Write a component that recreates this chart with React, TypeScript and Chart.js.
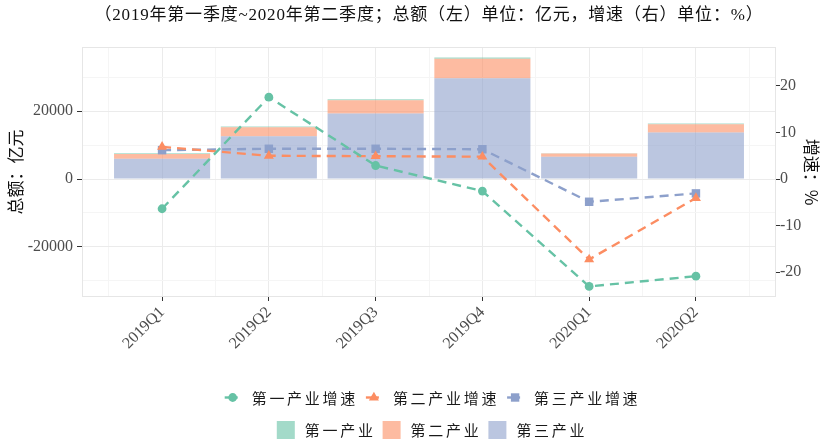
import React, { useEffect, useRef } from 'react';
import { Chart, registerables } from 'chart.js';

Chart.register(...registerables);

// ---- data ----
const categories = ['2019Q1', '2019Q2', '2019Q3', '2019Q4', '2020Q1', '2020Q2'];
const primaryTotal = [200, 250, 300, 350, 100, 250];
const secondaryTotal = [1400, 2650, 3900, 5800, 900, 2450];
const tertiaryTotal = [6000, 12600, 19300, 29700, 6600, 13700];
const primaryGrowth = [-6.4, 17.6, 2.9, -2.6, -23.1, -20.9];
const secondaryGrowth = [6.9, 5.0, 4.9, 4.8, -17.3, -4.1];
const tertiaryGrowth = [6.2, 6.5, 6.5, 6.4, -4.9, -3.1];
const leftTickValues = [-30000, -20000, -10000, 0, 10000, 20000, 30000];
const leftLabelledTicks = [-20000, 0, 20000];
const rightTickValues = [-20, -10, 0, 10, 20];
const xTickValues = [0.5, 1, 1.5, 2, 2.5, 3, 3.5, 4, 4.5, 5, 5.5, 6, 6.5];

const titleText = '（2019年第一季度~2020年第二季度；总额（左）单位：亿元，增速（右）单位：%）';
const leftTitle = '总额：亿元';
const rightTitle = '增速：%';

const barNames = ['第一产业', '第二产业', '第三产业'];
const lineNames = ['第一产业增速', '第二产业增速', '第三产业增速'];

// ---- styles ----
const GREEN = '#66c2a5';
const ORANGE = '#fc8d62';
const BLUE = '#8da0cb';
const GREEN_FILL = 'rgba(102,194,165,0.6)';
const ORANGE_FILL = 'rgba(252,141,98,0.6)';
const BLUE_FILL = 'rgba(141,160,203,0.6)';
const MAJOR_GRID = '#ebebeb';
const MINOR_GRID = '#f5f5f5';
const TICK_MARK = '#333333';
const SERIF = "'Liberation Serif', 'Noto Sans CJK SC', serif";
const CJK = "'Noto Sans CJK SC', sans-serif";

const LEFT_MIN = -34808;
const LEFT_MAX = 38938;
const RATIO = 1371.7;

const toXY = (vals: number[]) => vals.map((v, i) => ({ x: i + 1, y: v }));

const drawMarker = (ctx: CanvasRenderingContext2D, kind: string, x: number, y: number, color: string) => {
  ctx.fillStyle = color;
  ctx.beginPath();
  if (kind === 'circle') {
    ctx.arc(x, y, 4.4, 0, Math.PI * 2);
  } else if (kind === 'triangle') {
    const r = 5.8;
    ctx.moveTo(x, y - r);
    ctx.lineTo(x + r * 0.866, y + r * 0.5);
    ctx.lineTo(x - r * 0.866, y + r * 0.5);
    ctx.closePath();
  } else {
    ctx.rect(x - 4.2, y - 4.2, 8.4, 8.4);
  }
  ctx.fill();
};

const titlePlugin = {
  id: 'topTitle',
  afterDraw(chart: any) {
    const { ctx, chartArea } = chart;
    ctx.save();
    ctx.font = `17px ${SERIF}`;
    (ctx as any).letterSpacing = '0.8px';
    ctx.fillStyle = '#111111';
    ctx.textAlign = 'center';
    ctx.textBaseline = 'middle';
    ctx.fillText(titleText, (chartArea.left + chartArea.right) / 2, 16);
    ctx.restore();
  },
};

const panelBorderPlugin = {
  id: 'panelBorder',
  beforeDatasetsDraw(chart: any) {
    const { ctx, chartArea } = chart;
    ctx.save();
    ctx.strokeStyle = '#e6e6e6';
    ctx.lineWidth = 1;
    ctx.strokeRect(chartArea.left + 0.5, chartArea.top + 0.5, chartArea.right - chartArea.left - 1, chartArea.bottom - chartArea.top - 1);
    ctx.restore();
  },
};

const legendPlugin = {
  id: 'twoRowLegend',
  afterDraw(chart: any) {
    const { ctx, chartArea } = chart;
    const cx = (chartArea.left + chartArea.right) / 2 + 3;
    const keyW = 18;
    const keyGap = 10;
    const itemGap = 7;
    const rows = [
      {
        y: 397.5,
        items: [
          { text: lineNames[0], color: GREEN, kind: 'circle', line: true },
          { text: lineNames[1], color: ORANGE, kind: 'triangle', line: true },
          { text: lineNames[2], color: BLUE, kind: 'rect', line: true },
        ],
      },
      {
        y: 430,
        items: [
          { text: barNames[0], color: GREEN_FILL, kind: 'box', line: false },
          { text: barNames[1], color: ORANGE_FILL, kind: 'box', line: false },
          { text: barNames[2], color: BLUE_FILL, kind: 'box', line: false },
        ],
      },
    ];
    ctx.save();
    ctx.font = `15px ${CJK}`;
    (ctx as any).letterSpacing = '2.7px';
    ctx.textBaseline = 'middle';
    ctx.textAlign = 'left';
    rows.forEach((row) => {
      const widths = row.items.map((it) => ctx.measureText(it.text).width);
      const total = widths.reduce((a, w) => a + keyW + keyGap + w, 0) + itemGap * (row.items.length - 1);
      let x = cx - total / 2;
      row.items.forEach((it, i) => {
        if (it.line) {
          ctx.strokeStyle = it.color;
          ctx.lineWidth = 2.4;
          ctx.beginPath();
          ctx.moveTo(x + 1, row.y);
          ctx.lineTo(x + 14, row.y);
          ctx.stroke();
          drawMarker(ctx, it.kind, x + 9, row.y, it.color);
        } else {
          ctx.fillStyle = it.color;
          ctx.fillRect(x, row.y - 9, keyW, keyW);
        }
        ctx.fillStyle = '#1a1a1a';
        ctx.fillText(it.text, x + keyW + keyGap, row.y + 0.5);
        x += keyW + keyGap + widths[i] + itemGap;
      });
    });
    ctx.restore();
  },
};

export default function App() {
  const canvasRef = useRef<HTMLCanvasElement | null>(null);

  useEffect(() => {
    document.body.style.margin = '0';
    if (!canvasRef.current) return;
    Chart.defaults.font.family = SERIF;
    Chart.defaults.color = '#4d4d4d';

    const lineCommon = {
      type: 'line' as const,
      yAxisID: 'y1',
      borderWidth: 2.4,
      borderDash: [9, 6],
      fill: false,
      tension: 0,
      order: 0,
      pointBorderWidth: 0,
    };

    // the bar ruler also counts the half-step grid ticks, so the width share is doubled
    const barCommon = {
      type: 'bar' as const,
      stack: 'total',
      yAxisID: 'y',
      order: 1,
      barPercentage: 1.8,
      categoryPercentage: 1,
    };

    const chart = new Chart(canvasRef.current, {
      type: 'bar',
      data: {
        datasets: [
          { ...barCommon, label: barNames[2], data: toXY(tertiaryTotal), backgroundColor: BLUE_FILL },
          { ...barCommon, label: barNames[1], data: toXY(secondaryTotal), backgroundColor: ORANGE_FILL },
          { ...barCommon, label: barNames[0], data: toXY(primaryTotal), backgroundColor: GREEN_FILL },
          {
            ...lineCommon,
            label: lineNames[0],
            data: toXY(primaryGrowth),
            borderColor: GREEN,
            backgroundColor: GREEN,
            pointStyle: 'circle',
            pointRadius: 4.4,
            pointBackgroundColor: GREEN,
          },
          {
            ...lineCommon,
            label: lineNames[1],
            data: toXY(secondaryGrowth),
            borderColor: ORANGE,
            backgroundColor: ORANGE,
            pointStyle: 'triangle',
            pointRadius: 5.8,
            pointBackgroundColor: ORANGE,
          },
          {
            ...lineCommon,
            label: lineNames[2],
            data: toXY(tertiaryGrowth),
            borderColor: BLUE,
            backgroundColor: BLUE,
            pointStyle: 'rect',
            pointRadius: 6,
            pointBackgroundColor: BLUE,
          },
        ] as any,
      },
      options: {
        animation: false,
        responsive: true,
        maintainAspectRatio: false,
        layout: { padding: { top: 47, left: 0, right: 0, bottom: 66 } },
        plugins: {
          legend: { display: false },
          tooltip: { enabled: false },
          title: { display: false },
        },
        scales: {
          x: {
            type: 'linear',
            position: 'bottom',
            offset: false,
            min: 0.25,
            max: 6.75,
            afterBuildTicks: (scale: any) => {
              scale.ticks = xTickValues.map((v) => ({ value: v }));
            },
            afterFit: (scale: any) => {
              scale.height = 80;
            },
            ticks: {
              autoSkip: false,
              minRotation: 45,
              maxRotation: 45,
              padding: 2,
              color: '#4d4d4d',
              font: { family: SERIF, size: 16 },
              callback: (value: any) => (Number.isInteger(value) ? categories[value - 1] : ''),
            },
            grid: {
              offset: false,
              color: (c: any) => (c.tick && Number.isInteger(c.tick.value) ? MAJOR_GRID : MINOR_GRID),
              tickColor: (c: any) => (c.tick && Number.isInteger(c.tick.value) ? TICK_MARK : 'rgba(0,0,0,0)'),
              tickLength: 4,
              lineWidth: 1,
            },
            border: { display: false },
          },
          y: {
            type: 'linear',
            position: 'left',
            stacked: true,
            min: LEFT_MIN,
            max: LEFT_MAX,
            afterBuildTicks: (scale: any) => {
              scale.ticks = leftTickValues.map((v) => ({ value: v }));
            },
            afterFit: (scale: any) => {
              scale.width = 82;
            },
            ticks: {
              padding: 4,
              color: '#4d4d4d',
              font: { family: SERIF, size: 16 },
              callback: (value: any) => (leftLabelledTicks.includes(value) ? String(value) : ''),
            },
            grid: {
              color: (c: any) => (c.tick && leftLabelledTicks.includes(c.tick.value) ? MAJOR_GRID : MINOR_GRID),
              tickColor: (c: any) => (c.tick && leftLabelledTicks.includes(c.tick.value) ? TICK_MARK : 'rgba(0,0,0,0)'),
              tickLength: 5,
              lineWidth: 1,
            },
            border: { display: false },
            title: {
              display: true,
              text: leftTitle,
              color: '#111111',
              font: { family: CJK, size: 17, lineHeight: 1.2 },
              padding: { top: 5, bottom: 0 },
            },
          },
          y1: {
            type: 'linear',
            position: 'right',
            min: LEFT_MIN / RATIO,
            max: LEFT_MAX / RATIO,
            afterBuildTicks: (scale: any) => {
              scale.ticks = rightTickValues.map((v) => ({ value: v }));
            },
            afterFit: (scale: any) => {
              scale.width = 49;
            },
            ticks: {
              padding: 0,
              color: '#4d4d4d',
              font: { family: SERIF, size: 16 },
              callback: (value: any) => String(value),
            },
            grid: {
              drawOnChartArea: false,
              tickColor: TICK_MARK,
              tickLength: 4,
            },
            border: { display: false },
            title: {
              display: true,
              text: rightTitle,
              color: '#111111',
              font: { family: CJK, size: 17, lineHeight: 1.2 },
              padding: { top: 3, bottom: 0 },
            },
          },
        },
      } as any,
      plugins: [panelBorderPlugin, titlePlugin, legendPlugin],
    });

    return () => {
      chart.destroy();
    };
  }, []);

  return (
    <div style={{ width: 825, height: 443, position: 'relative' }}>
      <canvas ref={canvasRef} />
    </div>
  );
}
